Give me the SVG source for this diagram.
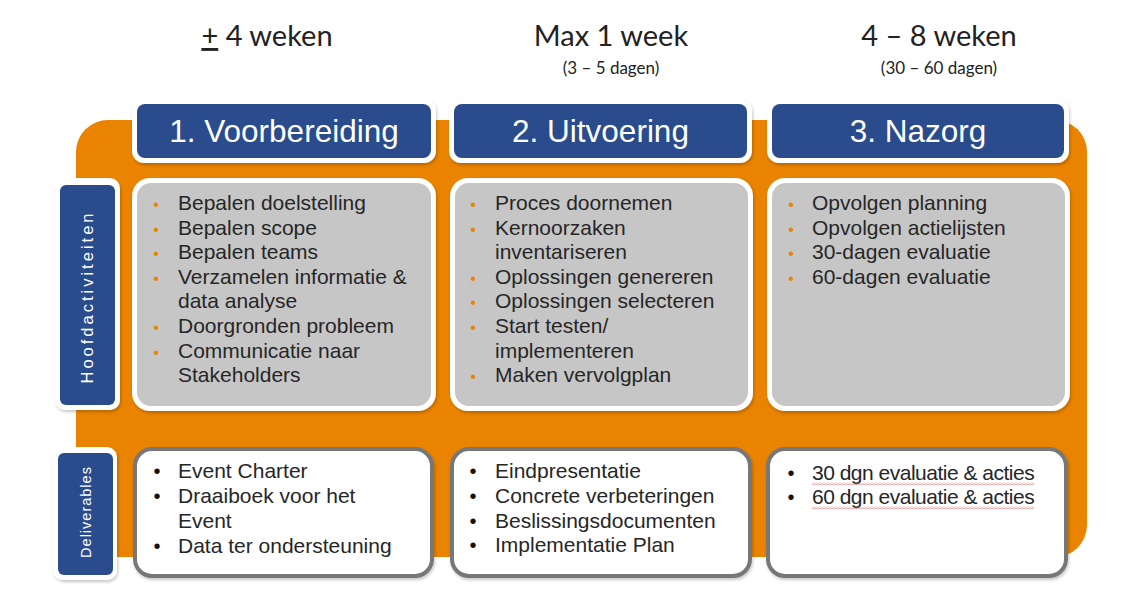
<svg xmlns="http://www.w3.org/2000/svg" width="1134" height="611" viewBox="0 0 1134 611">
<defs>
<filter id="sh" x="-10%" y="-10%" width="120%" height="130%"><feDropShadow dx="1" dy="2" stdDeviation="1.5" flood-color="#000" flood-opacity="0.22"/></filter>
<pattern id="wave" width="4" height="3" patternUnits="userSpaceOnUse"><path d="M0,2.2 L2,0.6 L4,2.2" fill="none" stroke="#e86a6a" stroke-width="0.8"/></pattern>
<style>
.frame{fill:#ffffff;filter:url(#sh)}
.blue{fill:#2a4b8c}
.gray{fill:#c6c6c6}
.deliv{fill:#ffffff;stroke:#777777;stroke-width:4;filter:url(#sh)}
.hdr{font-family:"Liberation Sans",Arial,sans-serif;font-size:31.5px;fill:#ffffff;text-anchor:middle}
.top{font-family:Lato,"Liberation Sans",sans-serif;font-size:29px;fill:#222;text-anchor:middle}
.sub{font-family:Lato,"Liberation Sans",sans-serif;font-size:17px;fill:#222;text-anchor:middle}
.txt{font-family:"Liberation Sans",Arial,sans-serif;font-size:21px;fill:#262626}
.ob{font-family:"Liberation Sans",Arial,sans-serif;font-size:16px;fill:#e98300;text-anchor:middle}
.bb{font-family:"Liberation Sans",Arial,sans-serif;font-size:20px;fill:#111;text-anchor:middle}
.vert{font-family:"Liberation Sans",Arial,sans-serif;fill:#ffffff;text-anchor:middle}
</style>
</defs>
<rect width="1134" height="611" fill="#ffffff"/>

<g id="background">
<rect x="76" y="120" width="1011" height="437" rx="32" fill="#e98300"/>
</g>

<g id="durations">
<text class="top" x="267" y="46"><tspan text-decoration="underline">+</tspan> 4 weken</text>
<text class="top" x="611" y="46">Max 1 week</text>
<text class="sub" x="611" y="74">(3 – 5 dagen)</text>
<text class="top" x="939" y="46">4 – 8 weken</text>
<text class="sub" x="939" y="74">(30 – 60 dagen)</text>
</g>

<g id="header-1">
<rect class="frame" x="132" y="99" width="304" height="64" rx="12"/>
<rect class="blue" x="137" y="104" width="294" height="54" rx="8"/>
<text class="hdr" x="284" y="142">1. Voorbereiding</text>
</g>
<g id="header-2">
<rect class="frame" x="449" y="99" width="303" height="64" rx="12"/>
<rect class="blue" x="454" y="104" width="293" height="54" rx="8"/>
<text class="hdr" x="600.5" y="142">2. Uitvoering</text>
</g>
<g id="header-3">
<rect class="frame" x="767" y="99" width="302" height="64" rx="12"/>
<rect class="blue" x="772" y="104" width="292" height="54" rx="8"/>
<text class="hdr" x="918" y="142">3. Nazorg</text>
</g>

<g id="label-hoofdactiviteiten">
<rect class="frame" x="55" y="178" width="65" height="232" rx="10"/>
<rect class="blue" x="60" y="185" width="55" height="220" rx="6"/>
<text class="vert" font-size="16.5" letter-spacing="3" transform="translate(93,297) rotate(-90)">Hoofdactiviteiten</text>
</g>
<g id="label-deliverables">
<rect class="frame" x="53" y="447" width="64" height="133" rx="10"/>
<rect class="blue" x="58" y="453" width="55" height="122" rx="6"/>
<text class="vert" font-size="14.5" letter-spacing="1" transform="translate(91,512) rotate(-90)">Deliverables</text>
</g>

<g id="activities-1">
<rect class="frame" x="132" y="178" width="304" height="233" rx="18"/>
<rect class="gray" x="137" y="183" width="294" height="223" rx="14"/>
<text class="ob" x="156" y="210">•</text><text class="txt" x="178" y="210">Bepalen doelstelling</text>
<text class="ob" x="156" y="234.6">•</text><text class="txt" x="178" y="234.6">Bepalen scope</text>
<text class="ob" x="156" y="259.2">•</text><text class="txt" x="178" y="259.2">Bepalen teams</text>
<text class="ob" x="156" y="283.8">•</text><text class="txt" x="178" y="283.8">Verzamelen informatie &amp;</text>
<text class="txt" x="178" y="308.4">data analyse</text>
<text class="ob" x="156" y="333">•</text><text class="txt" x="178" y="333">Doorgronden probleem</text>
<text class="ob" x="156" y="357.6">•</text><text class="txt" x="178" y="357.6">Communicatie naar</text>
<text class="txt" x="178" y="382.2">Stakeholders</text>
</g>
<g id="activities-2">
<rect class="frame" x="450" y="178" width="303" height="233" rx="18"/>
<rect class="gray" x="455" y="183" width="293" height="223" rx="14"/>
<text class="ob" x="473" y="210">•</text><text class="txt" x="495" y="210">Proces doornemen</text>
<text class="ob" x="473" y="234.6">•</text><text class="txt" x="495" y="234.6">Kernoorzaken</text>
<text class="txt" x="495" y="259.2">inventariseren</text>
<text class="ob" x="473" y="283.8">•</text><text class="txt" x="495" y="283.8">Oplossingen genereren</text>
<text class="ob" x="473" y="308.4">•</text><text class="txt" x="495" y="308.4">Oplossingen selecteren</text>
<text class="ob" x="473" y="333">•</text><text class="txt" x="495" y="333">Start testen/</text>
<text class="txt" x="495" y="357.6">implementeren</text>
<text class="ob" x="473" y="382.2">•</text><text class="txt" x="495" y="382.2">Maken vervolgplan</text>
</g>
<g id="activities-3">
<rect class="frame" x="767" y="178" width="303" height="233" rx="18"/>
<rect class="gray" x="772" y="183" width="293" height="223" rx="14"/>
<text class="ob" x="791" y="210">•</text><text class="txt" x="812" y="210">Opvolgen planning</text>
<text class="ob" x="791" y="234.6">•</text><text class="txt" x="812" y="234.6">Opvolgen actielijsten</text>
<text class="ob" x="791" y="259.2">•</text><text class="txt" x="812" y="259.2">30-dagen evaluatie</text>
<text class="ob" x="791" y="283.8">•</text><text class="txt" x="812" y="283.8">60-dagen evaluatie</text>
</g>

<g id="deliverables-1">
<rect class="deliv" x="135" y="449" width="297" height="127" rx="17"/>
<text class="bb" x="157" y="478">•</text><text class="txt" x="178" y="478">Event Charter</text>
<text class="bb" x="157" y="503">•</text><text class="txt" x="178" y="503">Draaiboek voor het</text>
<text class="txt" x="178" y="528">Event</text>
<text class="bb" x="157" y="553">•</text><text class="txt" x="178" y="553">Data ter ondersteuning</text>
</g>
<g id="deliverables-2">
<rect class="deliv" x="452" y="449" width="298" height="127" rx="17"/>
<text class="bb" x="473" y="478">•</text><text class="txt" x="495" y="478">Eindpresentatie</text>
<text class="bb" x="473" y="503">•</text><text class="txt" x="495" y="503">Concrete verbeteringen</text>
<text class="bb" x="473" y="527.5">•</text><text class="txt" x="495" y="527.5">Beslissingsdocumenten</text>
<text class="bb" x="473" y="552">•</text><text class="txt" x="495" y="552">Implementatie Plan</text>
</g>
<g id="deliverables-3">
<rect class="deliv" x="768" y="449" width="298" height="127" rx="17"/>
<text class="bb" x="791" y="480">•</text><text class="txt" x="812" y="480" font-size="19.5" fill="#111" letter-spacing="-0.5">30 dgn evaluatie &amp; acties</text>
<rect x="812" y="482" width="222" height="3" fill="url(#wave)"/>
<text class="bb" x="791" y="504">•</text><text class="txt" x="812" y="504" font-size="19.5" fill="#111" letter-spacing="-0.5">60 dgn evaluatie &amp; acties</text>
<rect x="812" y="506" width="222" height="3" fill="url(#wave)"/>
</g>

<g id="connectors"></g>
</svg>
